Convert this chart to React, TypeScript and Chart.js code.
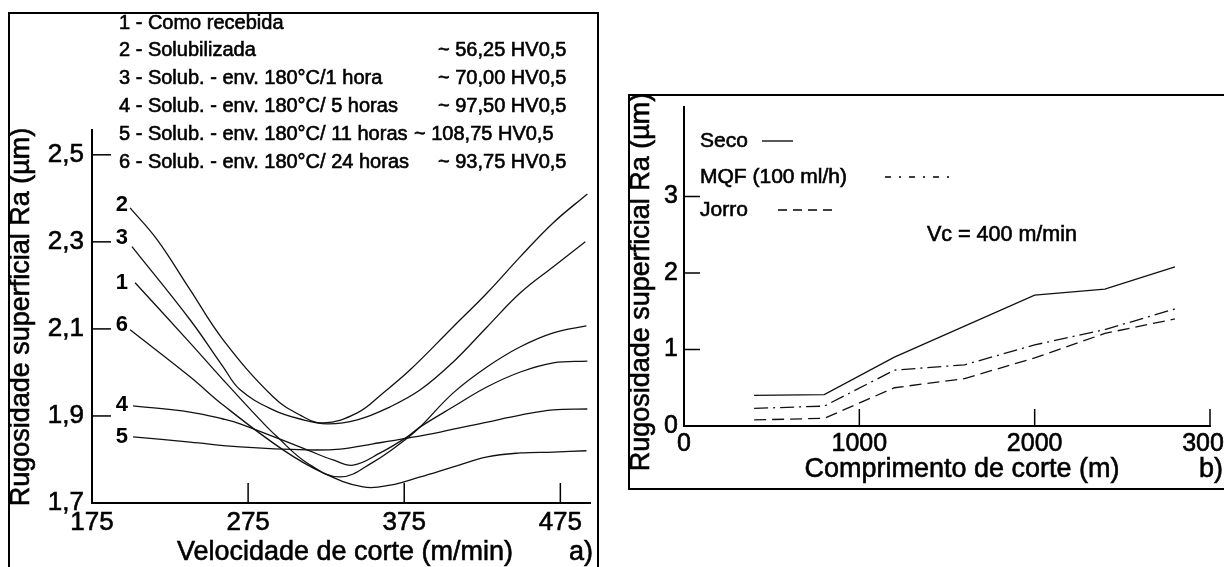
import React, { useEffect, useRef } from 'react';
import { Chart, registerables } from 'chart.js';

Chart.register(...registerables);

const FONT = '"Liberation Sans", Arial, Helvetica, sans-serif';

// ---------- Panel a) : Ra vs cutting speed ----------
const SPEED_1 = [202.6, 237.8, 259.0, 282.7, 293.6, 312.8, 334.0, 355.1, 376.9, 385.3, 406.4, 428.2, 449.4, 470.5, 491.7];
const RA_1 = [2.206, 2.068, 1.983, 1.891, 1.852, 1.792, 1.760, 1.794, 1.849, 1.875, 1.953, 2.013, 2.059, 2.091, 2.107];

const SPEED_2 = [199.4, 216.7, 237.8, 259.0, 291.0, 308.3, 323.1, 344.9, 361.5, 378.8, 406.4, 428.2, 449.4, 470.5, 492.3];
const RA_2 = [2.378, 2.305, 2.190, 2.075, 1.944, 1.902, 1.884, 1.907, 1.953, 2.006, 2.105, 2.183, 2.266, 2.344, 2.410];

const SPEED_3 = [200.6, 237.8, 259.0, 269.9, 291.0, 308.3, 325.6, 344.9, 366.0, 385.3, 406.4, 428.2, 449.4, 470.5, 491.0];
const RA_3 = [2.289, 2.121, 2.013, 1.960, 1.914, 1.893, 1.882, 1.891, 1.921, 1.960, 2.024, 2.105, 2.183, 2.243, 2.300];

const SPEED_4 = [201.3, 237.8, 259.0, 269.9, 312.8, 329.5, 342.3, 359.6, 376.9, 385.3, 406.4, 428.2, 449.4, 470.5, 492.3];
const RA_4 = [1.923, 1.909, 1.893, 1.882, 1.822, 1.799, 1.787, 1.815, 1.852, 1.875, 1.921, 1.967, 2.001, 2.022, 2.026];

const SPEED_5 = [201.3, 237.8, 269.9, 312.8, 334.0, 355.1, 376.9, 398.1, 428.2, 449.4, 470.5, 492.3];
const RA_5 = [1.852, 1.840, 1.829, 1.822, 1.824, 1.836, 1.849, 1.863, 1.886, 1.902, 1.914, 1.916];

const SPEED_6 = [199.4, 237.8, 259.0, 297.4, 323.1, 348.7, 366.0, 385.3, 406.4, 428.2, 449.4, 470.5, 491.7];
const RA_6 = [2.098, 1.990, 1.925, 1.822, 1.769, 1.737, 1.741, 1.760, 1.783, 1.806, 1.815, 1.817, 1.820];

const CURVE_NAMES = ['1', '2', '3', '4', '5', '6'];
const SPEED_TICKS = [175, 275, 375, 475];
const RA_TICKS_A = [1.7, 1.9, 2.1, 2.3, 2.5];

const TREATMENTS = [
  '1 - Como recebida',
  '2 - Solubilizada',
  '3 - Solub. - env. 180°C/1 hora',
  '4 - Solub. - env. 180°C/ 5 horas',
  '5 - Solub. - env. 180°C/ 11 horas',
  '6 - Solub. - env. 180°C/ 24 horas',
];
const HARDNESS = ['', '~ 56,25 HV0,5', '~ 70,00 HV0,5', '~ 97,50 HV0,5', '~ 108,75 HV0,5', '~ 93,75 HV0,5'];

// ---------- Panel b) : Ra vs cutting length ----------
const LENGTH_SECO = [400, 800, 1200, 2000, 2400, 2800];
const RA_SECO = [0.40, 0.41, 0.90, 1.71, 1.79, 2.08];
const LENGTH_MQF = [400, 800, 1200, 1600, 2000, 2400, 2800];
const RA_MQF = [0.23, 0.26, 0.73, 0.80, 1.06, 1.26, 1.53];
const LENGTH_JORRO = [400, 800, 1200, 1600, 2000, 2400, 2800];
const RA_JORRO = [0.08, 0.10, 0.50, 0.62, 0.89, 1.21, 1.40];
const LENGTH_TICKS = [0, 1000, 2000, 3000];
const RA_TICKS_B = [0, 1, 2, 3];
const SERIES_B = ['Seco', 'MQF (100 ml/h)', 'Jorro'];

// ---------- styles ----------
const LABEL_RIGHT_X = 128;
const LABEL_DY = [0, -3, -9, -1, 0, -5];
const HARDNESS_X = [0, 438, 438, 438, 414, 438];
const DASH_MQF = [14, 5, 2, 5];
const DASH_JORRO = [12, 6];
const LEGEND_DASH = [[], [6, 8, 2, 8], [9, 6]];
const LEGEND_B_Y = [141, 177, 210];
const LEGEND_B_LINE = [[762, 793], [885, 955], [778, 832]];
const TEXT_STROKE = 0.6;

function txt(ctx: CanvasRenderingContext2D, s: string, x: number, y: number, size: number, align: CanvasTextAlign = 'left', bold = false) {
  ctx.font = `${bold ? 'bold ' : ''}${size}px ${FONT}`;
  ctx.textAlign = align;
  ctx.textBaseline = 'middle';
  ctx.fillStyle = '#000';
  ctx.fillText(s, x, y);
  if (!bold) {
    ctx.save();
    ctx.setLineDash([]);
    ctx.lineWidth = TEXT_STROKE;
    ctx.strokeStyle = '#000';
    ctx.strokeText(s, x, y);
    ctx.restore();
  }
}

function vtxt(ctx: CanvasRenderingContext2D, s: string, cx: number, cy: number, size: number) {
  ctx.save();
  ctx.translate(cx, cy);
  ctx.rotate(-Math.PI / 2);
  txt(ctx, s, 0, 0, size, 'center');
  ctx.restore();
}

function seg(ctx: CanvasRenderingContext2D, x1: number, y1: number, x2: number, y2: number) {
  ctx.beginPath();
  ctx.moveTo(x1, y1);
  ctx.lineTo(x2, y2);
  ctx.stroke();
}

const pairs = (xs: number[], ys: number[]) => xs.map((x, i) => ({ x, y: ys[i] }));

const panelAPlugin = {
  id: 'panelA',
  afterDraw(chart: any) {
    const { ctx, chartArea: a, scales } = chart;
    const x = scales.x, y = scales.y;
    ctx.save();
    ctx.strokeStyle = '#000';
    ctx.lineWidth = 1.5;
    RA_TICKS_A.forEach((v) => {
      if (v === RA_TICKS_A[0]) return;
      const py = y.getPixelForValue(v);
      seg(ctx, a.left, py, a.left + 19, py);
    });
    SPEED_TICKS.forEach((v) => {
      if (v === SPEED_TICKS[0]) return;
      const px = x.getPixelForValue(v);
      seg(ctx, px, a.bottom, px, a.bottom - 20);
    });
    chart.data.datasets.forEach((ds: any, i: number) => {
      const p = ds.data[0];
      txt(ctx, CURVE_NAMES[i], LABEL_RIGHT_X, y.getPixelForValue(p.y) + LABEL_DY[i], 22, 'right', true);
    });
    TREATMENTS.forEach((s, i) => {
      const ly = 23 + 27.8 * i;
      txt(ctx, s, 119, ly, 20);
      if (HARDNESS[i]) txt(ctx, HARDNESS[i], HARDNESS_X[i], ly, 20);
    });
    vtxt(ctx, 'Rugosidade superficial Ra (\u00b5m)', 22, 317, 27);
    txt(ctx, 'Velocidade de corte (m/min)', 345, 553, 27, 'center');
    txt(ctx, 'a)', 569, 553, 27);
    ctx.restore();
  },
};

const panelBPlugin = {
  id: 'panelB',
  afterDraw(chart: any) {
    const { ctx, chartArea: a, scales } = chart;
    const x = scales.x, y = scales.y;
    ctx.save();
    ctx.strokeStyle = '#000';
    ctx.lineWidth = 1.5;
    RA_TICKS_B.forEach((v) => {
      if (v === RA_TICKS_B[0]) return;
      const py = y.getPixelForValue(v);
      seg(ctx, a.left, py, a.left + 16, py);
    });
    LENGTH_TICKS.forEach((v) => {
      if (v === LENGTH_TICKS[0]) return;
      const px = x.getPixelForValue(v);
      seg(ctx, px, a.bottom, px, a.bottom - 17);
    });
    SERIES_B.forEach((s, i) => {
      txt(ctx, s, 700, LEGEND_B_Y[i], 21);
      ctx.lineWidth = 1.3;
      ctx.strokeStyle = '#000';
      ctx.setLineDash(LEGEND_DASH[i]);
      seg(ctx, LEGEND_B_LINE[i][0], LEGEND_B_Y[i], LEGEND_B_LINE[i][1], LEGEND_B_Y[i]);
      ctx.setLineDash([]);
    });
    txt(ctx, 'Vc = 400 m/min', 927, 235, 21.5);
    vtxt(ctx, 'Rugosidade superficial Ra (\u00b5m)', 642, 282, 27);
    txt(ctx, 'Comprimento de corte (m)', 962, 470, 27, 'center');
    txt(ctx, 'b)', 1199, 470, 27);
    ctx.restore();
  },
};

function axis(min: number, max: number, tickVals: number[], fmt: (v: number) => string, size: number, pad: number, isX: boolean, fixed: number) {
  return {
    type: 'linear',
    position: isX ? 'bottom' : 'left',
    min,
    max,
    grid: { display: false, drawTicks: false },
    border: { display: true, color: '#000', width: 2 },
    ticks: {
      color: '#000',
      font: { size, family: FONT },
      padding: pad,
      autoSkip: false,
      maxRotation: 0,
      textStrokeColor: '#000',
      textStrokeWidth: TEXT_STROKE,
      callback: (v: any) => fmt(Number(v)),
    },
    afterBuildTicks: (s: any) => {
      s.ticks = tickVals.map((v) => ({ value: v }));
    },
    afterFit: (s: any) => {
      if (isX) {
        s.height = fixed;
        s.paddingLeft = 0;
        s.paddingRight = 0;
      } else {
        s.width = fixed;
        s.paddingTop = 0;
        s.paddingBottom = 0;
      }
    },
  };
}

export default function App() {
  const aRef = useRef<HTMLCanvasElement>(null);
  const bRef = useRef<HTMLCanvasElement>(null);

  useEffect(() => {
    const curves = [
      [SPEED_1, RA_1],
      [SPEED_2, RA_2],
      [SPEED_3, RA_3],
      [SPEED_4, RA_4],
      [SPEED_5, RA_5],
      [SPEED_6, RA_6],
    ];
    const chartA = new Chart(aRef.current as HTMLCanvasElement, {
      type: 'scatter',
      data: {
        datasets: curves.map(([xs, ys], i) => ({
          label: CURVE_NAMES[i],
          data: pairs(xs, ys),
          showLine: true,
          borderColor: '#111',
          borderWidth: 1.3,
          pointRadius: 0,
          tension: 0.4,
          fill: false,
        })),
      },
      options: {
        animation: false,
        responsive: false,
        devicePixelRatio: 1,
        layout: { padding: { left: 32, top: 130, right: 634, bottom: 24 } },
        plugins: { legend: { display: false }, tooltip: { enabled: false } },
        scales: {
          x: axis(175, 494, SPEED_TICKS, (v) => String(v), 26, 4, true, 40),
          y: axis(1.7, 2.557, RA_TICKS_A, (v) => v.toFixed(1).replace('.', ','), 26, 8, false, 60),
        },
      } as any,
      plugins: [panelAPlugin],
    } as any);

    const chartB = new Chart(bRef.current as HTMLCanvasElement, {
      type: 'scatter',
      data: {
        datasets: [
          { label: SERIES_B[0], data: pairs(LENGTH_SECO, RA_SECO), borderDash: [] },
          { label: SERIES_B[1], data: pairs(LENGTH_MQF, RA_MQF), borderDash: DASH_MQF },
          { label: SERIES_B[2], data: pairs(LENGTH_JORRO, RA_JORRO), borderDash: DASH_JORRO },
        ].map((d) => ({
          ...d,
          showLine: true,
          borderColor: '#111',
          borderWidth: 1.3,
          pointRadius: 0,
          tension: 0,
          fill: false,
        })),
      },
      options: {
        animation: false,
        responsive: false,
        devicePixelRatio: 1,
        layout: { padding: { left: 624, top: 107, right: 14, bottom: 101 } },
        plugins: { legend: { display: false }, tooltip: { enabled: false } },
        scales: {
          x: axis(0, 3000, LENGTH_TICKS, (v) => String(v), 25, 3, true, 40),
          y: axis(0, 4.17, RA_TICKS_B, (v) => String(v), 25, 6, false, 60),
        },
      } as any,
      plugins: [panelBPlugin],
    } as any);

    return () => {
      chartA.destroy();
      chartB.destroy();
    };
  }, []);

  const canvasStyle: React.CSSProperties = { position: 'absolute', left: 0, top: 0, width: 1224, height: 567 };

  return (
    <div style={{ position: 'fixed', left: 0, top: 0, width: 1224, height: 567, overflow: 'hidden', background: '#fff' }}>
      <div style={{ position: 'absolute', left: 8, top: 12, width: 591, height: 620, border: '2px solid #000', boxSizing: 'border-box' }} />
      <div style={{ position: 'absolute', left: 628, top: 94, width: 700, height: 396, border: '2px solid #000', boxSizing: 'border-box' }} />
      <canvas ref={aRef} width={1224} height={567} style={canvasStyle} />
      <canvas ref={bRef} width={1224} height={567} style={canvasStyle} />
    </div>
  );
}
